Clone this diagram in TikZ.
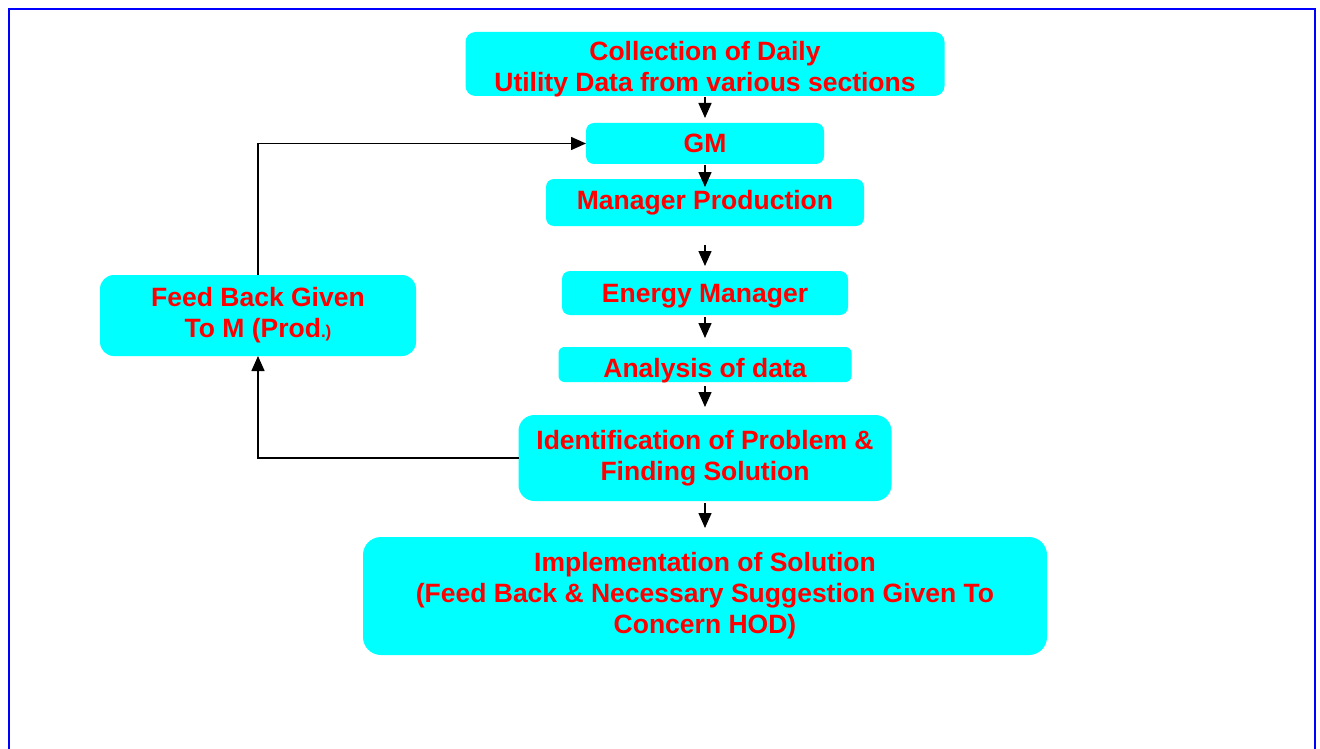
\documentclass[tikz,border=0pt]{standalone}
\usepackage{fontspec}
\setmainfont{Liberation Sans}
\usetikzlibrary{arrows.meta}
\usetikzlibrary{positioning}
\definecolor{boxcyan}{RGB}{0,255,255}
\definecolor{boxred}{RGB}{255,0,0}
\definecolor{frameblue}{RGB}{0,0,255}
\newcommand{\lowered}[2]{\raisebox{-#1}[\height][\depth]{#2}}

\begin{document}
\begin{tikzpicture}[x=1pt,y=-1pt,->,>={Triangle[length=15pt,width=13pt]},line width=1.5pt]
 \tikzstyle{flowbox}=[fill=boxcyan, text=boxred, font=\fontsize{26.5}{31}\selectfont\bfseries, inner sep=0pt, outer sep=0pt, align=center, rounded corners=8pt]
 \useasboundingbox (0,0) rectangle (1320,749);
 % frame
 \draw[-, frameblue, line width=2pt] (9,749) -- (9,9) -- (1315,9) -- (1315,749);

 \node[flowbox, minimum width=479pt, minimum height=64pt, rounded corners=10pt] (coll) at (705,64) {\lowered{5pt}{Collection of Daily}\\\lowered{5pt}{Utility Data from various sections}};
 \node[flowbox, minimum width=238pt, minimum height=41pt] (gm) [below=27pt of coll] {GM};
 \node[flowbox, minimum width=318pt, minimum height=47pt] (mgr) [below=15pt of gm] {Manager Production};
 \node[flowbox, minimum width=286pt, minimum height=44pt] (em) [below=45pt of mgr] {\lowered{3pt}{Energy Manager}};
 \node[flowbox, minimum width=293pt, minimum height=35pt, rounded corners=6pt] (ana) [below=32pt of em] {\lowered{6pt}{Analysis of data}};
 \node[flowbox, minimum width=373pt, minimum height=86pt, rounded corners=16pt] (ident) [below=33pt of ana] {Identification of Problem \&\\Finding Solution};
 \node[flowbox, minimum width=684pt, minimum height=118pt, rounded corners=18pt] (impl) [below=36pt of ident] {Implementation of Solution\\(Feed Back \& Necessary Suggestion Given To\\Concern HOD)};
 \node[flowbox, minimum width=316pt, minimum height=81pt, rounded corners=14pt] (fb) at (258,315.5) {Feed Back Given\\To M (Prod{\fontsize{17}{20}\selectfont .)}};

 \path
   (coll) edge[shorten <=1pt, shorten >=5pt] (gm)
   (gm) edge[shorten <=1pt, shorten >=-8pt] (mgr)
   (mgr) edge[shorten <=19pt, shorten >=5pt] (em)
   (em) edge[shorten <=2pt, shorten >=9pt] (ana)
   (ana) edge[shorten <=4pt, shorten >=8pt] (ident)
   (ident) edge[shorten <=2pt, shorten >=9pt] (impl);
 % feed back loop
 \draw (ident.west) -| (fb.south);
 \draw (fb.north) |- (gm.west);
\end{tikzpicture}
\end{document}
